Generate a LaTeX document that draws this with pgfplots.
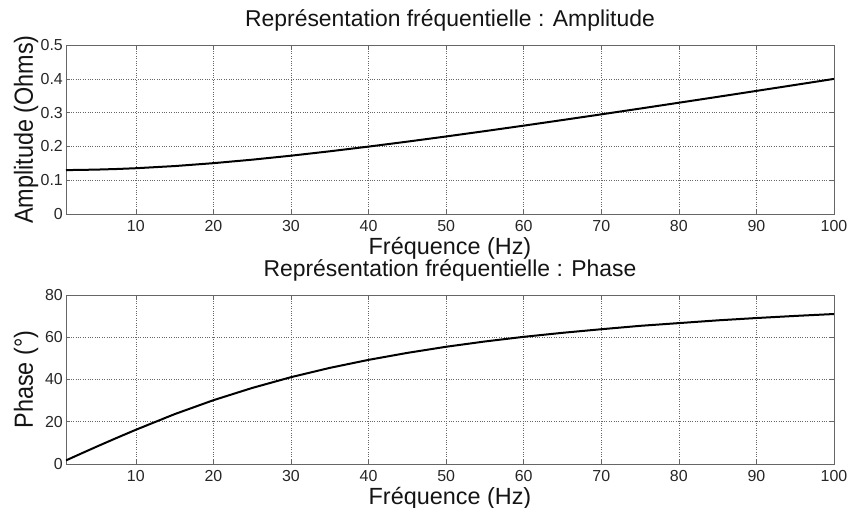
\documentclass[border=0pt]{standalone}
\usepackage{fontspec}
\setmainfont{Liberation Sans}
\usepackage{pgfplots}
\usepackage{pgfplotstable}
\pgfplotsset{compat=1.18}

\pgfplotstableread{
f A P
1 0.1300 1.7
2.5 0.1303 4.2
5 0.1314 8.3
7.5 0.1331 12.3
10 0.1354 16.2
15 0.1418 23.6
20 0.1504 30.2
25 0.1607 36.0
30 0.1725 41.1
35 0.1855 45.5
40 0.1994 49.3
45 0.2141 52.6
50 0.2294 55.5
55 0.2452 58.0
60 0.2614 60.2
65 0.2780 62.1
70 0.2948 63.8
75 0.3119 65.4
80 0.3292 66.7
85 0.3466 68.0
90 0.3642 69.1
95 0.3819 70.1
100 0.3997 71.0
}\datatable

\newcommand{\vs}[1]{\scalebox{1}[1.12]{#1}}

\pgfplotsset{
  mystyle/.style={
    scale only axis, width=768bp, height=169bp,
    xmin=1, xmax=100, xtick={10,20,...,100},
    grid=major, major grid style={dotted, black!60, line width=0.6bp},
    axis line style={black!60, line width=0.8bp},
    tick style={black!60, line width=0.6bp},
    tick align=inside, major tick length=4bp,
    ticklabel style={font=\fontsize{16}{18}\selectfont, text=black!85},
    /pgf/number format/assume math mode=true,
    xticklabel style={inner sep=0pt, yshift=-6bp},
    yticklabel style={inner sep=0pt, xshift=-3bp},
    label style={font=\fontsize{23.5}{26}\selectfont, text=black!92, inner sep=0pt},
    xlabel style={at={(axis description cs:0.5,-0.2367)}, anchor=base},
    ylabel style={at={(axis description cs:-0.04297,0.5)}, anchor=base},
    title style={at={(axis description cs:0.5,1.0769)}, anchor=base, inner sep=0pt, font=\fontsize{23}{26}\selectfont, text=black!92},
  }
}

\begin{document}
\begin{tikzpicture}[x=1bp,y=1bp]
\begin{axis}[mystyle, at={(0,0)}, anchor=south west,
  ymin=0, ymax=0.5, ytick={0,0.1,...,0.5},
  yticklabel style={/pgf/number format/fixed, /pgf/number format/precision=1},
  title={Représentation fréquentielle : Amplitude},
  xlabel={Fréquence (Hz)}, ylabel={\vs{Amplitude (Ohms)}}]
\addplot[black, line width=2bp] table[x=f, y=A] {\datatable};
\end{axis}
\begin{axis}[mystyle, at={(0,-250bp)}, anchor=south west,
  ymin=0, ymax=80, ytick={0,20,...,80},
  title={Représentation fréquentielle : Phase},
  xlabel={Fréquence (Hz)}, ylabel={\vs{Phase (°)}}]
\addplot[black, line width=2bp] table[x=f, y=P] {\datatable};
\end{axis}
\pgfresetboundingbox
\path[use as bounding box] (-66bp,-294bp) rectangle (785bp,214bp);
\end{tikzpicture}
\end{document}
